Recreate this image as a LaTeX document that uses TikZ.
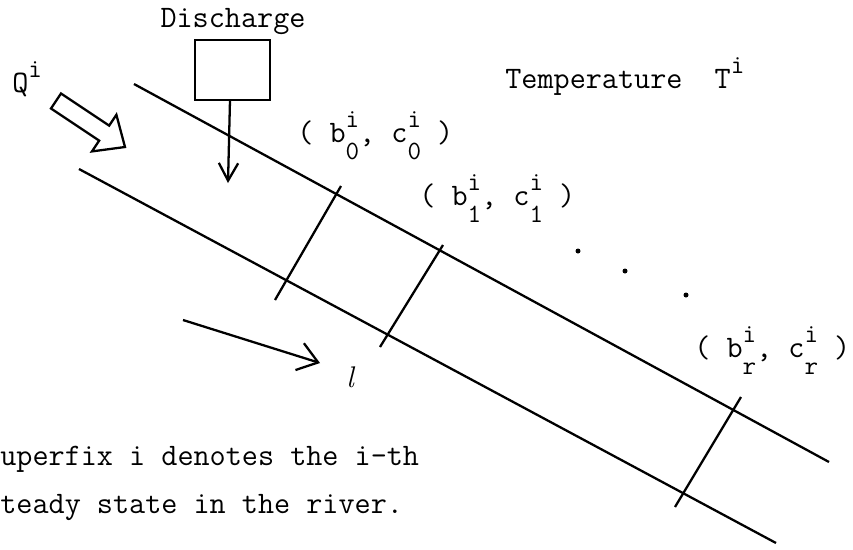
\documentclass[tikz,border=0pt]{standalone}
\usepackage{fontspec}
\usetikzlibrary{arrows.meta}
\newcommand{\scr}{\fontsize{15}{15}\selectfont}
\newcommand{\supsub}[3]{#1\rlap{\raisebox{8pt}{\scr #2}}\raisebox{-10pt}{\scr #3}}
\newcommand{\bcpair}[1]{(\ \supsub{b}{i}{#1},\ \supsub{c}{i}{#1}\ )}
\begin{document}
\begin{tikzpicture}[x=0.02cm,y=-0.02cm,
  river/.style={line width=1.3pt},
  lbl/.style={inner sep=0pt,font=\fontsize{17.8}{20}\selectfont\ttfamily},
  barb/.style={-{Straight Barb[length=10pt,width=11pt]},line width=1.3pt}]
\useasboundingbox (0,0) rectangle (853,549);
% river banks
\draw[river] (134,84) -- (829,462);
\draw[river] (79,169) -- (776,543);
% cross sections
\draw[river] (275,300) -- (341,186);
\draw[river] (380,347) -- (443,245);
\draw[river] (675,507) -- (741,397);
% dots
\fill (578,251) circle (2.5);
\fill (625,271) circle (2.5);
\fill (686,295) circle (2.5);
% discharge box
\node[lbl] (dis) at (233,22) {Discharge};
\draw[line width=1.3pt] (195,40) rectangle (270,100);
\coordinate (db) at (230,100);
\coordinate (dt) at (228,183);
\draw[barb] (db) -- (dt);
% Q arrow
\node[lbl,anchor=base west] (Q) at (12,92) {Q\raisebox{8pt}{\scr i}};
\draw[line width=1.3pt,line join=miter] (61,93.5) -- (109.2,125.6) -- (116.4,114.8) -- (125,147) -- (92,151.4) -- (99.2,140.6) -- (51,108.5) -- cycle;
% flow arrow l
\coordinate (ls) at (183,320);
\coordinate (le) at (320,363);
\draw[-{Straight Barb[length=11pt,width=16pt]},line width=1.3pt] (ls) -- (le);
\node[inner sep=0pt,font=\fontsize{17}{20}\selectfont\itshape] (l) at (350,377) {l};
% labels
\node[lbl,anchor=base west] (p0) at (297,142) {\bcpair{0}};
\node[lbl,anchor=base west] (p1) at (419,205) {\bcpair{1}};
\node[lbl,anchor=base west] (pr) at (694,357) {\bcpair{r}};
\node[lbl,anchor=base west] (T) at (505,88) {Temperature\ \ T\raisebox{8pt}{\scr i}};
\node[lbl,anchor=base west] (n1) at (0,465) {uperfix i denotes the i-th};
\node[lbl,anchor=base west] (n2) at (0,513) {teady state in the river.};
\end{tikzpicture}
\end{document}
